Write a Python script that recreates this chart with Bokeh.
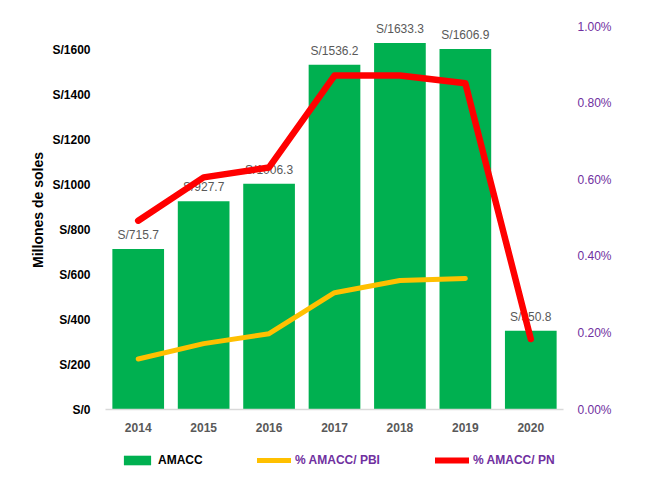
from bokeh.plotting import figure
from bokeh.layouts import column
from bokeh.models import (ColumnDataSource, LinearAxis, Range1d, FixedTicker,
                          PrintfTickFormatter, Legend, LegendItem)
from bokeh.embed import file_html
from bokeh.resources import INLINE

years = ["2014", "2015", "2016", "2017", "2018", "2019", "2020"]
amacc = [715.7, 927.7, 1006.3, 1536.2, 1633.3, 1606.9, 350.8]
pct_pn = [0.493, 0.606, 0.632, 0.872, 0.872, 0.852, 0.184]
pbi_years = ["2014", "2015", "2016", "2017", "2018", "2019"]
pct_pbi = [0.132, 0.172, 0.198, 0.305, 0.337, 0.342]
labels = ["S/" + str(v) for v in amacc]
left_ticks = [0, 200, 400, 600, 800, 1000, 1200, 1400, 1600]
right_ticks = [0.0, 0.2, 0.4, 0.6, 0.8, 1.0]

FONT = "Liberation Sans"
GREEN = "#00B050"
RED = "#FF0000"
YELLOW = "#FFC000"
PURPLE = "#7030A0"
GRAY = "#595959"

W = 643
src = ColumnDataSource(dict(x=years, y=amacc, lab=labels))

p = figure(x_range=years, y_range=Range1d(0, 1778), width=W, height=445,
           output_backend="svg", toolbar_location=None,
           min_border_left=105, min_border_right=80, min_border_top=10,
           min_border_bottom=36)
p.outline_line_color = None
p.xgrid.grid_line_color = None
p.ygrid.grid_line_color = None

p.extra_y_ranges = {"pct": Range1d(0, 1.0418)}

p.vbar(x="x", top="y", width=0.79, source=src, fill_color=GREEN,
       line_color=None)
p.text(x="x", y="y", text="lab", source=src, text_align="center",
       text_baseline="bottom", y_offset=-7, text_color=GRAY,
       text_font_size="12px", text_font={"value": FONT})

p.line(pbi_years, pct_pbi, y_range_name="pct", line_color=YELLOW,
       line_width=5, line_cap="round", line_join="round")
p.line(years, pct_pn, y_range_name="pct", line_color=RED,
       line_width=6.5, line_cap="round", line_join="round")

# left axis
ya = p.yaxis[0]
ya.ticker = FixedTicker(ticks=left_ticks)
ya.formatter = PrintfTickFormatter(format="S/%d")
ya.axis_line_color = None
ya.major_tick_line_color = None
ya.minor_tick_line_color = None
ya.major_label_text_font = FONT
ya.major_label_text_font_size = "12px"
ya.major_label_text_font_style = "bold"
ya.major_label_text_color = "black"
ya.major_label_standoff = 9
ya.axis_label = "Millones de soles"
ya.axis_label_text_font = FONT
ya.axis_label_text_font_size = "14px"
ya.axis_label_text_font_style = "bold"
ya.axis_label_text_color = "black"
ya.axis_label_standoff = 3

# right axis
ra = LinearAxis(y_range_name="pct", ticker=FixedTicker(ticks=right_ticks),
                formatter=PrintfTickFormatter(format="%.2f%%"))
ra.axis_line_color = None
ra.major_tick_line_color = None
ra.minor_tick_line_color = None
ra.major_label_text_font = FONT
ra.major_label_text_font_size = "12px"
ra.major_label_text_color = PURPLE
ra.major_label_standoff = 8
p.add_layout(ra, "right")

# x axis
xa = p.xaxis[0]
xa.axis_line_color = "#D9D9D9"
xa.axis_line_width = 1.5
xa.major_tick_line_color = None
xa.minor_tick_line_color = None
xa.major_label_text_font = FONT
xa.major_label_text_font_size = "12px"
xa.major_label_text_font_style = "bold"
xa.major_label_text_color = GRAY
xa.major_label_standoff = 7

# legend strip (swatch renderers sit outside the visible range)
lf = figure(width=W, height=30, x_range=(0, 1), y_range=(0, 1),
            output_backend="svg", toolbar_location=None,
            min_border_left=105, min_border_right=80,
            min_border_top=0, min_border_bottom=0)
lf.axis.visible = False
lf.grid.visible = False
lf.outline_line_color = None
r_bar = lf.vbar(x=[-10], top=[-10], width=0.5, fill_color=GREEN,
                line_color=None)
r_pbi = lf.line(x=[-10, -9], y=[-10, -10], line_color=YELLOW, line_width=5,
                line_cap="round")
r_pn = lf.line(x=[-10, -9], y=[-10, -10], line_color=RED, line_width=6,
               line_cap="round")


def mk_legend(label, rend, offset, color):
    return Legend(items=[LegendItem(label=label, renderers=[rend])],
                  location="center_left", orientation="horizontal",
                  padding=0, margin=offset, spacing=0,
                  border_line_color=None, background_fill_alpha=0,
                  glyph_width=34, glyph_height=12, label_height=12,
                  label_standoff=4, label_text_font=FONT,
                  label_text_font_size="12px", label_text_color=color,
                  label_text_font_style="bold")


for lg in (mk_legend("AMACC", r_bar, 15, "black"),
           mk_legend("% AMACC/ PBI", r_pbi, 152, PURPLE),
           mk_legend("% AMACC/ PN", r_pn, 330, PURPLE)):
    lf.add_layout(lg, "center")

open("out.html", "w").write(file_html(column(p, lf, spacing=0), INLINE))
